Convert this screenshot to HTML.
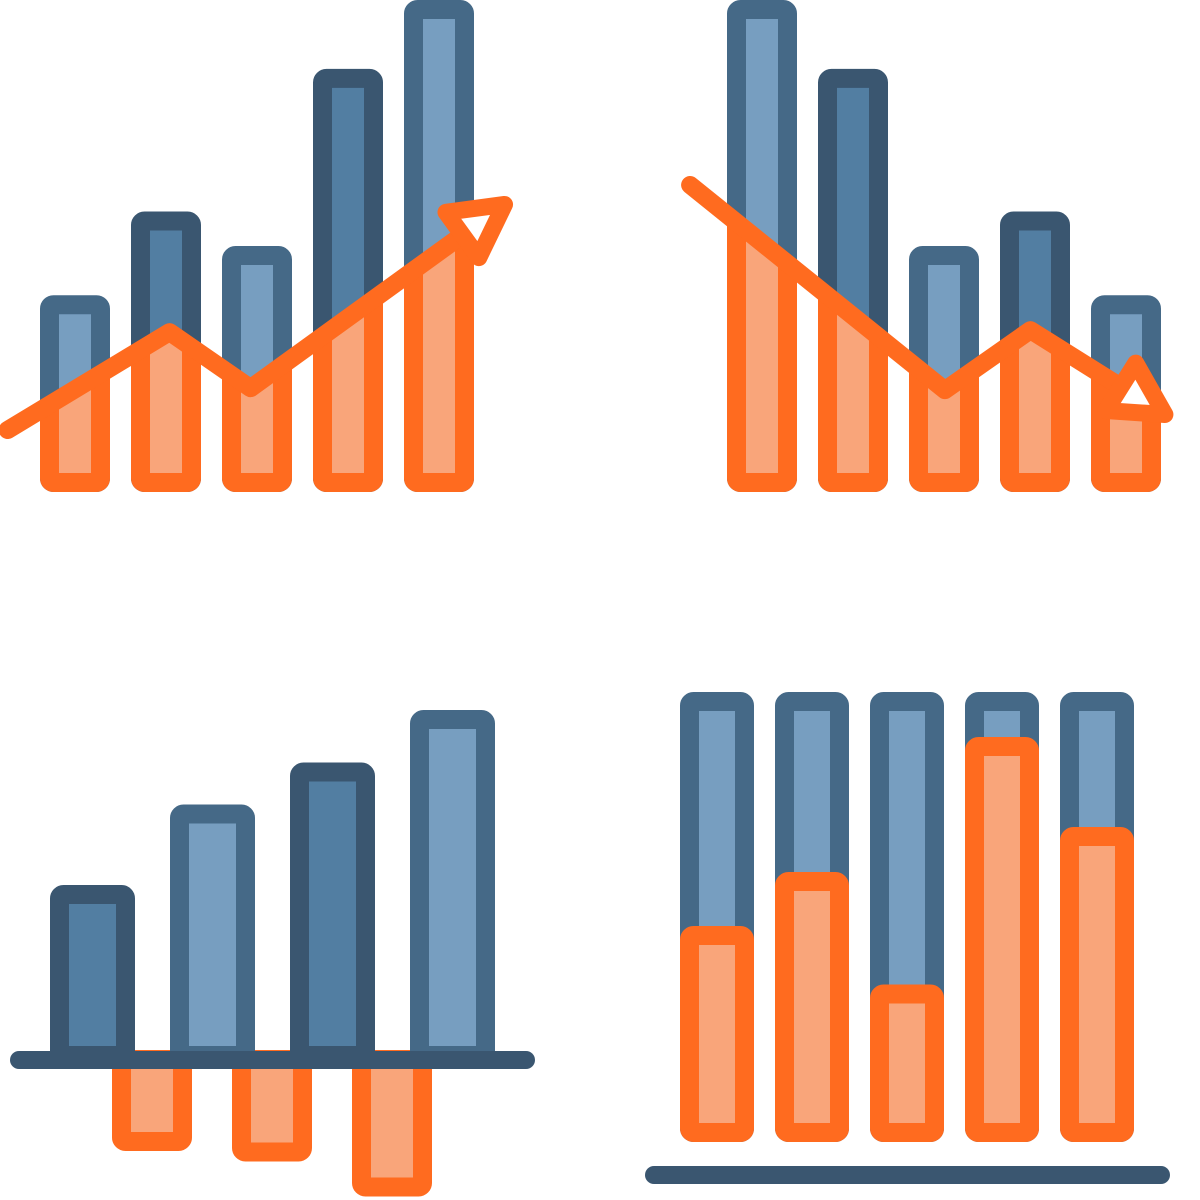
<!DOCTYPE html>
<html><head><meta charset="utf-8"><style>
html,body{margin:0;padding:0;background:#fff;width:1200px;height:1200px;overflow:hidden}
svg{display:block}
</style></head><body>
<svg id="chart" width="1200" height="1200" viewBox="0 0 1200 1200" xmlns="http://www.w3.org/2000/svg">
<defs></defs>
</svg>
<script>
// ---- data ----
const tlValues = [40, 57, 50, 86, 100];
const tlLineX = [-0.74, 1.04, 1.93, 4.56];
const tlLineV = [12.6, 32.5, 21.1, 56.3];
const trValues = [100, 86, 50, 57, 40];
const trLineX = [-0.79, 2.01, 2.95, 4.26];
const trLineV = [62.4, 20.7, 32.9, 17.7];
const blValues = [50, 73, 85, 100];
const blNegX = [0.5, 1.5, 2.5];
const blNegValues = [-26, -29, -39];
const brTotals = [100, 100, 100, 100, 100];
const brValues = [48, 60, 35, 90, 70];

const NS = 'http://www.w3.org/2000/svg';
const svg = document.getElementById('chart');
const defs = svg.querySelector('defs');
const DARK = ['#456987', '#3a5670'];
const FILL = ['#779ec0', '#527ea2'];
const OR = '#ff6b1f', ORL = '#f9a57a';
const SW = 19;

function mk(tag, attrs, parent) {
  const e = document.createElementNS(NS, tag);
  for (const k in attrs) e.setAttribute(k, attrs[k]);
  (parent || svg).appendChild(e);
  return e;
}
function bar(x, y, w, h, fill, stroke, parent) {
  return mk('rect', {x: x + SW/2, y: y + SW/2, width: Math.max(0, w - SW), height: Math.max(0, h - SW), rx: 4, fill: fill, stroke: stroke, 'stroke-width': SW, 'stroke-linejoin': 'round'}, parent);
}
function arrowHead(px, py, ux, uy, g) {
  const nx = -uy, ny = ux;
  const tip = [px + ux*18, py + uy*18];
  const a = [px - ux*34 + nx*28, py - uy*34 + ny*28];
  const b = [px - ux*34 - nx*28, py - uy*34 - ny*28];
  return mk('polygon', {points: [tip, a, b].map(q => q.join(',')).join(' '), fill: '#fff', stroke: OR, 'stroke-width': 17, 'stroke-linejoin': 'round'}, g);
}

function trendChart(name, values, lineX, lineV, x0, step, w, base, scale, clipId) {
  const g = mk('g', {});
  
  
  const xs = i => x0 + step * i;
  const xc = c => x0 + w/2 + step * c;
  const ys = v => base - v * scale;
  const pts = lineX.map((c, i) => [xc(c), ys(lineV[i])]);
  const cp = mk('clipPath', {id: clipId}, defs);
  const poly = pts.map(p => p.join(',')).join(' ');
  mk('polygon', {points: poly + ` ${pts[pts.length-1][0]+60},${pts[pts.length-1][1]} ${pts[pts.length-1][0]+60},${base+20} ${pts[0][0]-60},${base+20} ${pts[0][0]-60},${pts[0][1]}`}, cp);
  values.forEach((v, i) => {
    const b = bar(xs(i), ys(v), w, v * scale, FILL[i % 2 ? 1 : 0], DARK[i % 2 ? 1 : 0], g);
    
    
  });
  const og = mk('g', {'clip-path': `url(#${clipId})`}, g);
  values.forEach((v, i) => {
    const b = bar(xs(i), ys(v), w, v * scale, ORL, OR, og);
    
    
  });
  const line = mk('polyline', {points: poly, fill: 'none', stroke: OR, 'stroke-width': 18, 'stroke-linecap': 'round', 'stroke-linejoin': 'round'}, g);
  
  
  const p1 = pts[pts.length-2], p2 = pts[pts.length-1];
  const dx = p2[0]-p1[0], dy = p2[1]-p1[1], L = Math.hypot(dx, dy);
  const ah = arrowHead(p2[0], p2[1], dx/L, dy/L, g);
  
  
}

trendChart('rising-chart', tlValues, tlLineX, tlLineV, 40, 91, 70, 492, 4.92, 'c1');
trendChart('falling-chart', trValues, trLineX, trLineV, 727, 91, 70, 492, 4.92, 'c2');

(function(){
  const g = mk('g', {});
  
  
  const base = 1060, scale = 3.5, w = 85, x0 = 50, step = 120;
  const xs = c => x0 + step * c;
  blNegValues.forEach((v, i) => {
    const h = -v * scale;
    const b = bar(xs(blNegX[i]) + 2, base - 10, 80, h + 10, ORL, OR, g);
    
    
  });
  blValues.forEach((v, i) => {
    const b = bar(xs(i), base - v * scale, w, v * scale + 5, FILL[i % 2 ? 0 : 1], DARK[i % 2 ? 0 : 1], g);
    
    
  });
  const ax = mk('line', {x1: 19, y1: base, x2: 526, y2: base, stroke: '#3a5670', 'stroke-width': 18, 'stroke-linecap': 'round'}, g);
  
  
})();

(function(){
  const g = mk('g', {});
  
  
  const base = 1142, scale = 4.5, w = 74, x0 = 680, step = 95;
  const xs = i => x0 + step * i;
  brTotals.forEach((t, i) => {
    const b = bar(xs(i), base - t * scale, w, t * scale, FILL[0], DARK[0], g);
    
    
  });
  brValues.forEach((v, i) => {
    const b = bar(xs(i), base - v * scale, w, v * scale, ORL, OR, g);
    
    
  });
  const ax = mk('line', {x1: 654, y1: 1175, x2: 1161, y2: 1175, stroke: '#3a5670', 'stroke-width': 18, 'stroke-linecap': 'round'}, g);
  
  
})();
</script>
</body></html>
